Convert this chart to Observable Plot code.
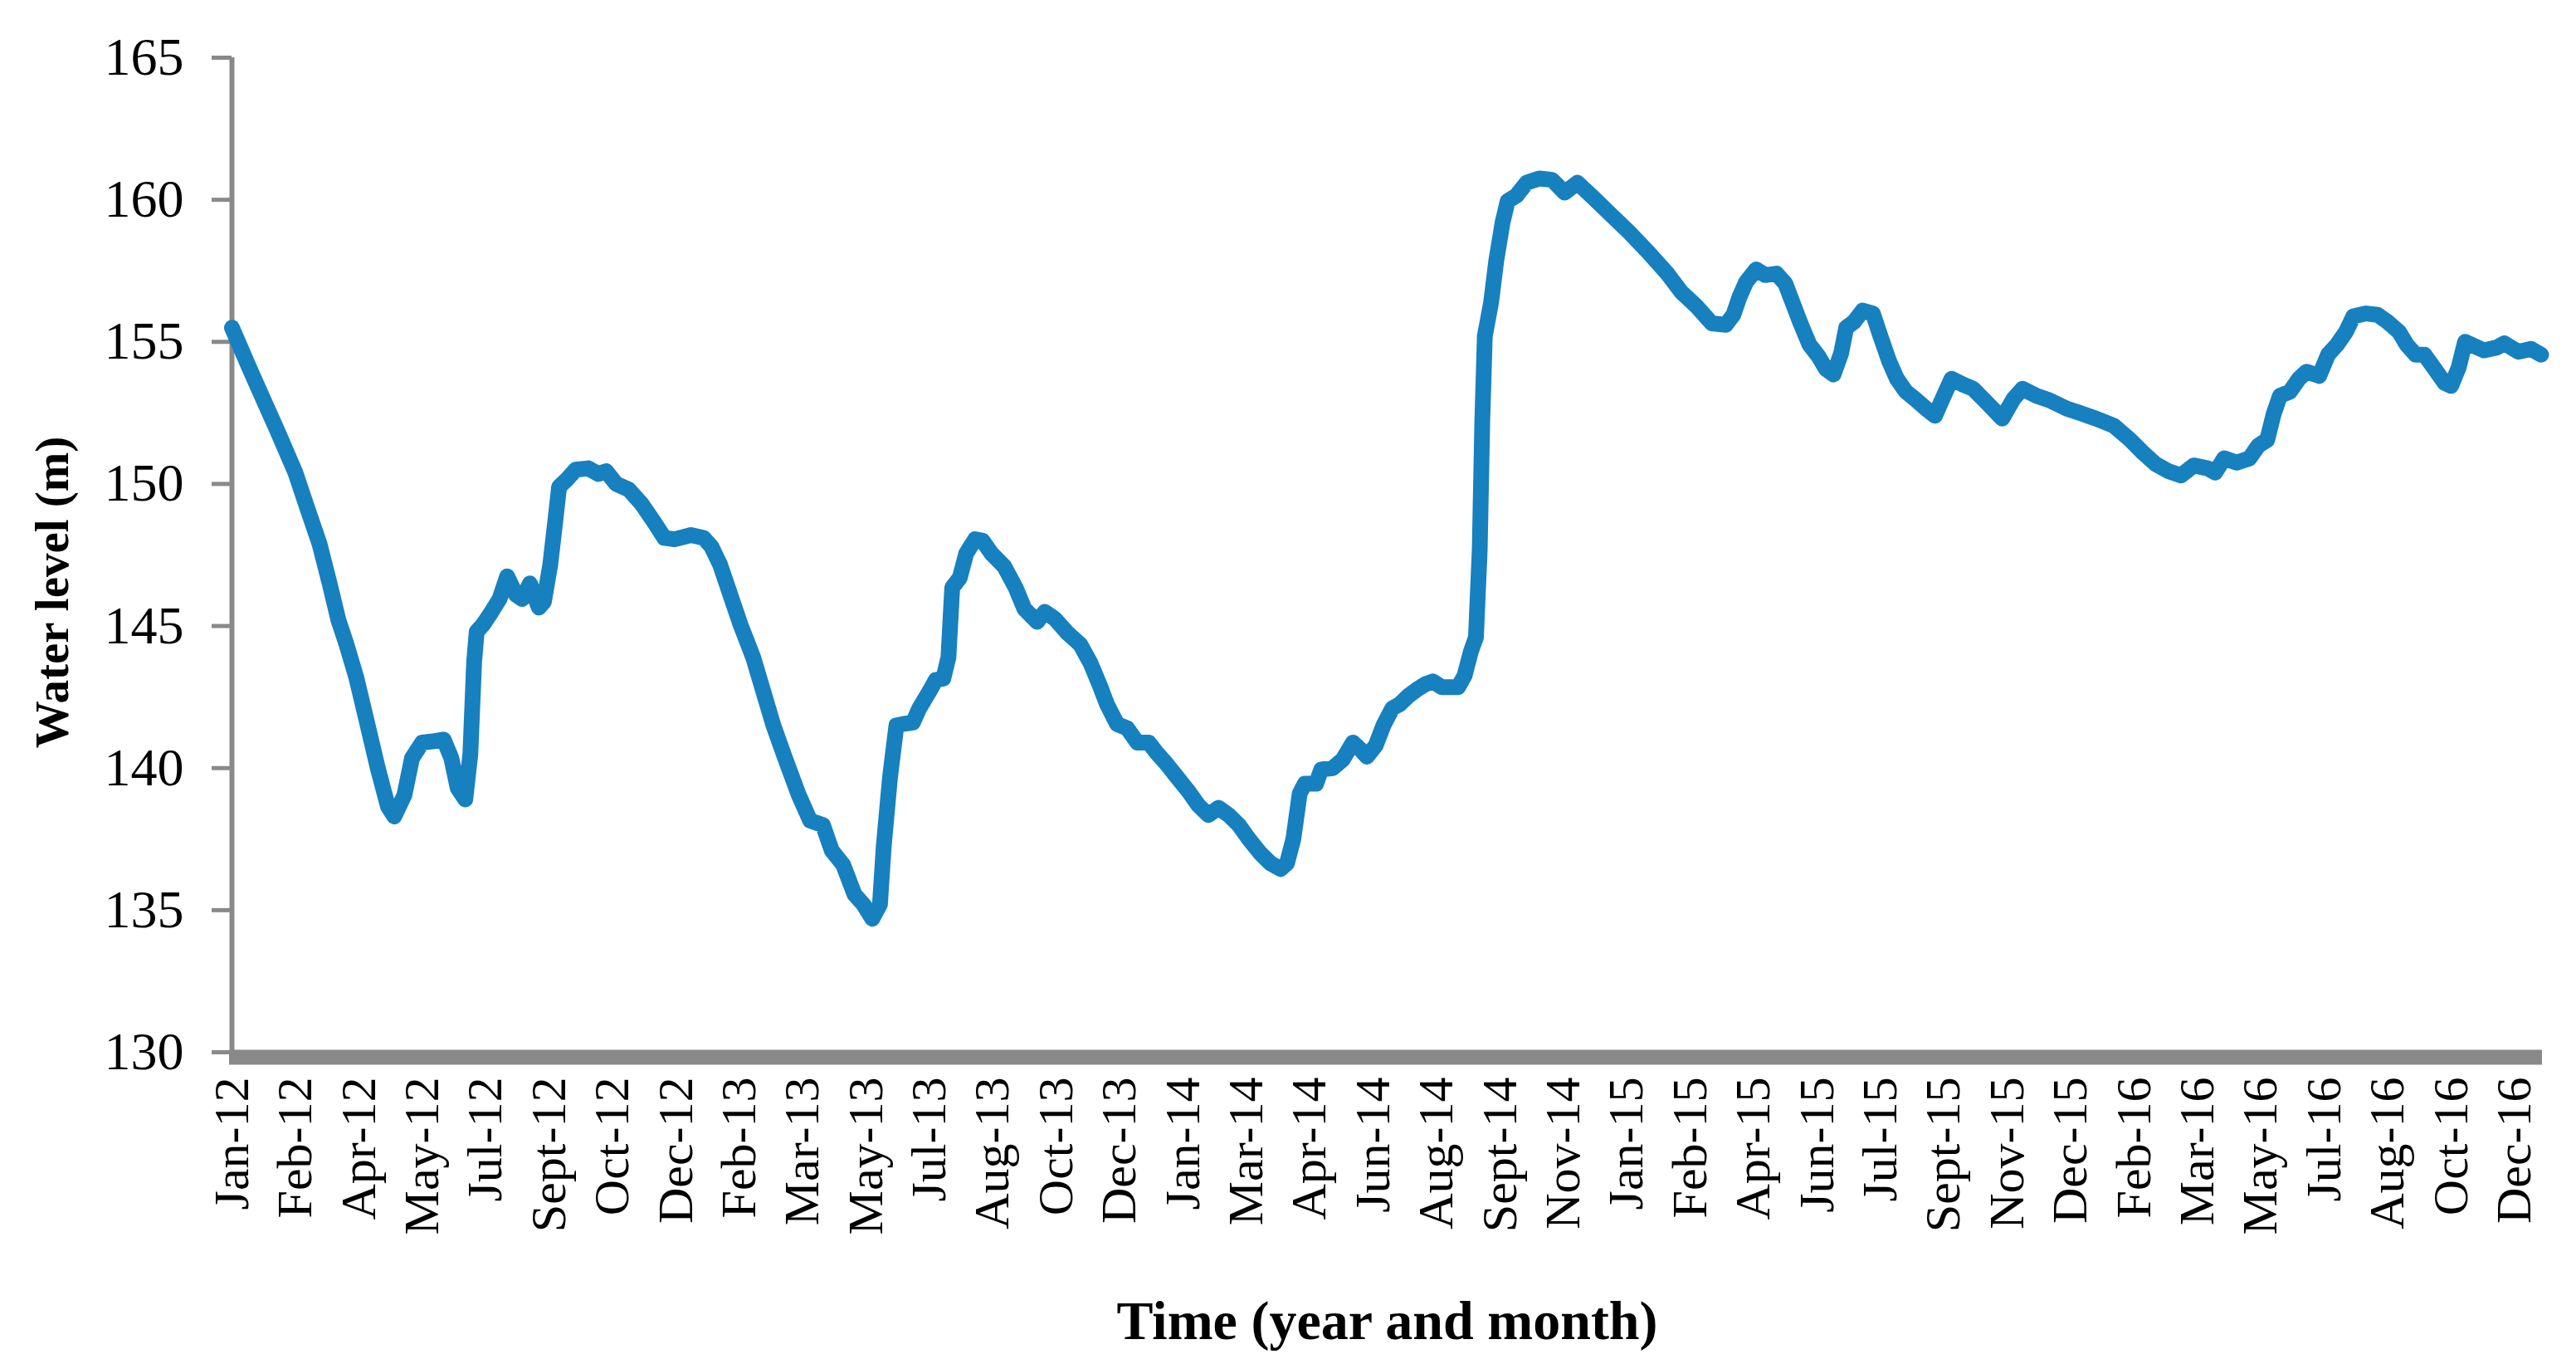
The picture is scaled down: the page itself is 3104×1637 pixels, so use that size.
<!DOCTYPE html>
<html>
<head>
<meta charset="utf-8">
<script src="https://cdn.jsdelivr.net/npm/d3@7"></script>
<script src="https://cdn.jsdelivr.net/npm/@observablehq/plot@0.6"></script>
<style>
  html, body { margin: 0; padding: 0; background: white; }
</style>
</head>
<body>
<div id="chart"></div>
<script>
// Day offset from 1 Jan 2012
const days = [0,14,27,36,50,59,69,77,84,90,98,106,115,123,128,136,142,150,160,167,173,178,184,188,191,193,198,204,211,217,224,229,235,242,246,251,255,258,264,271,281,289,295,303,313,323,333,341,349,362,372,378,385,393,401,411,419,427,437,447,456,466,473,482,
491,498,505,511,514,519,524,529,537,542,550,555,561,565,568,574,579,586,592,599,609,618,625,635,641,649,659,669,677,684,690,698,706,714,723,729,737,745,754,762,770,778,786,794,802,811,819,827,832,837,842,846,855,859,868,876,884,890,895,902,908,915,921,928,934,941,947,954,967,972,977,981,984,986,988,993,997,1002,1006,1013,1021,1031,1041,1051,1061,1073,1088,1102,1117,1132,1143,1155,1167,1178,1184,1189,1194,1202,1209,1218,1225,1231,1237,1244,1251,1257,1263,1269,1273,1279,1286,1294,1300,1307,1313,1320,1327,1336,1343,1349,1356,1365,1373,1383,1396,1405,1412,1423,1433,1447,1457,1470,1484,1497,1507,1517,1527,1537,1547,1558,1564,1571,1581,1591,1598,1605,1610,1615,1623,1630,1636,1646,1653,1660,1667,1673,1683,1692,1700,1709,1715,1722,1729,1737,1745,1750,1756,1761,1766,1776,1786,1792,1803,1813,1821];

// Water level (m)
const levels = [155.5,154.05,152.75,151.85,150.4,149.2,147.9,146.5,145.2,144.4,143.2,141.7,140.0,138.65,138.3,139.05,140.35,140.9,140.95,141.0,140.35,139.3,138.9,140.5,143.75,144.8,145.05,145.45,145.95,146.75,146.1,145.95,146.5,145.65,145.85,147.15,148.7,149.9,150.15,150.5,150.55,150.35,150.45,150.0,149.8,149.3,148.65,148.1,148.05,148.2,148.1,147.8,147.15,146.1,145.05,143.9,142.7,141.5,140.25,139.05,138.15,138.0,137.1,136.6,
135.55,135.2,134.7,135.2,137.25,139.7,141.5,141.55,141.6,142.1,142.7,143.1,143.15,143.9,146.35,146.7,147.55,148.05,148.0,147.55,147.1,146.35,145.6,145.15,145.5,145.25,144.75,144.35,143.7,142.95,142.25,141.55,141.4,140.9,140.9,140.55,140.15,139.7,139.2,138.7,138.35,138.6,138.35,138.0,137.5,137.0,136.65,136.45,136.65,137.5,139.1,139.45,139.45,139.95,140.0,140.3,140.9,140.65,140.4,140.8,141.5,142.1,142.25,142.55,142.75,142.95,143.05,142.85,142.85,143.25,144.1,144.6,147.7,152.2,155.2,156.4,157.85,159.2,159.95,160.15,160.6,160.75,160.7,160.25,160.6,160.1,159.45,158.85,158.15,157.4,156.75,156.25,155.65,155.6,155.95,156.6,157.1,157.55,157.35,157.4,157.05,156.35,155.65,154.9,154.5,154.05,153.85,154.6,155.5,155.7,156.1,156.0,155.2,154.3,153.7,153.25,153.0,152.65,152.4,153.0,153.7,153.5,153.35,152.9,152.3,153.0,153.35,153.1,152.95,152.65,152.5,152.3,152.05,151.55,151.1,150.7,150.45,150.3,150.65,150.55,150.4,150.9,150.75,150.9,151.35,151.55,152.45,153.1,153.25,153.7,153.95,153.8,154.55,154.9,155.35,155.9,156.0,155.95,155.7,155.35,154.9,154.55,154.55,154.05,153.55,153.45,154.1,155.0,154.9,154.7,154.8,154.95,154.65,154.75,154.55];

// Category-axis label positions (every 50 days) and their labels
const tickDays = [0,50,100,150,200,250,300,350,400,450,500,550,600,650,700,750,800,850,900,950,1000,1050,1100,1150,1200,1250,1300,1350,1400,1450,1500,1550,1600,1650,1700,1750,1800];
const tickLabels = ["Jan-12","Feb-12","Apr-12","May-12","Jul-12","Sept-12","Oct-12","Dec-12","Feb-13","Mar-13","May-13","Jul-13","Aug-13","Oct-13","Dec-13","Jan-14","Mar-14","Apr-14","Jun-14","Aug-14","Sept-14","Nov-14","Jan-15","Feb-15","Apr-15","Jun-15","Jul-15","Sept-15","Nov-15","Dec-15","Feb-16","Mar-16","May-16","Jul-16","Aug-16","Oct-16","Dec-16"];
const yTicks = [130,135,140,145,150,155,160,165];

const data = days.map((d, i) => ({day: d, level: levels[i]}));
const labelByDay = new Map(tickDays.map((d, i) => [d, tickLabels[i]]));

const font = "'Liberation Serif', 'Times New Roman', serif";
const gray = "#898989";

const chart = Plot.plot({
  width: 3104,
  height: 1637,
  marginLeft: 279,
  marginRight: 41,
  marginTop: 69,
  marginBottom: 370,
  x: {domain: [0, 1822], axis: null},
  y: {domain: [130, 165], axis: null},
  style: {fontFamily: font, background: "white", color: "black", overflow: "visible"},
  marks: [
    Plot.axisY({ticks: yTicks, tickFormat: d => String(d), tickSize: 24, tickPadding: 34,
      fontSize: 64, stroke: gray, strokeWidth: 5, fill: "black", label: null}),
    Plot.axisX({ticks: tickDays, tickFormat: d => labelByDay.get(d), tickRotate: -90,
      tickSize: 0, tickPadding: 30, fontSize: 60, fill: "black", label: null}),
    Plot.ruleX([0], {stroke: gray, strokeWidth: 6}),
    Plot.line(data, {x: "day", y: "level", stroke: "#1780bf", strokeWidth: 19,
      strokeLinejoin: "round", strokeLinecap: "round"}),
    Plot.ruleY([130], {stroke: gray, strokeWidth: 18, dy: 6, insetLeft: -3}),
    Plot.text(["Water level (m)"], {text: d => d, frameAnchor: "left", textAnchor: "middle",
      lineAnchor: "middle", dx: -216, dy: 45, rotate: -90, fontSize: 57, fontWeight: "bold", fill: "black"}),
    Plot.text(["Time (year and month)"], {text: d => d, frameAnchor: "bottom", textAnchor: "middle",
      lineAnchor: "bottom", dy: 345, fontSize: 66, fontWeight: "bold", fill: "black"})
  ]
});

document.getElementById("chart").appendChild(chart);
</script>
</body>
</html>
